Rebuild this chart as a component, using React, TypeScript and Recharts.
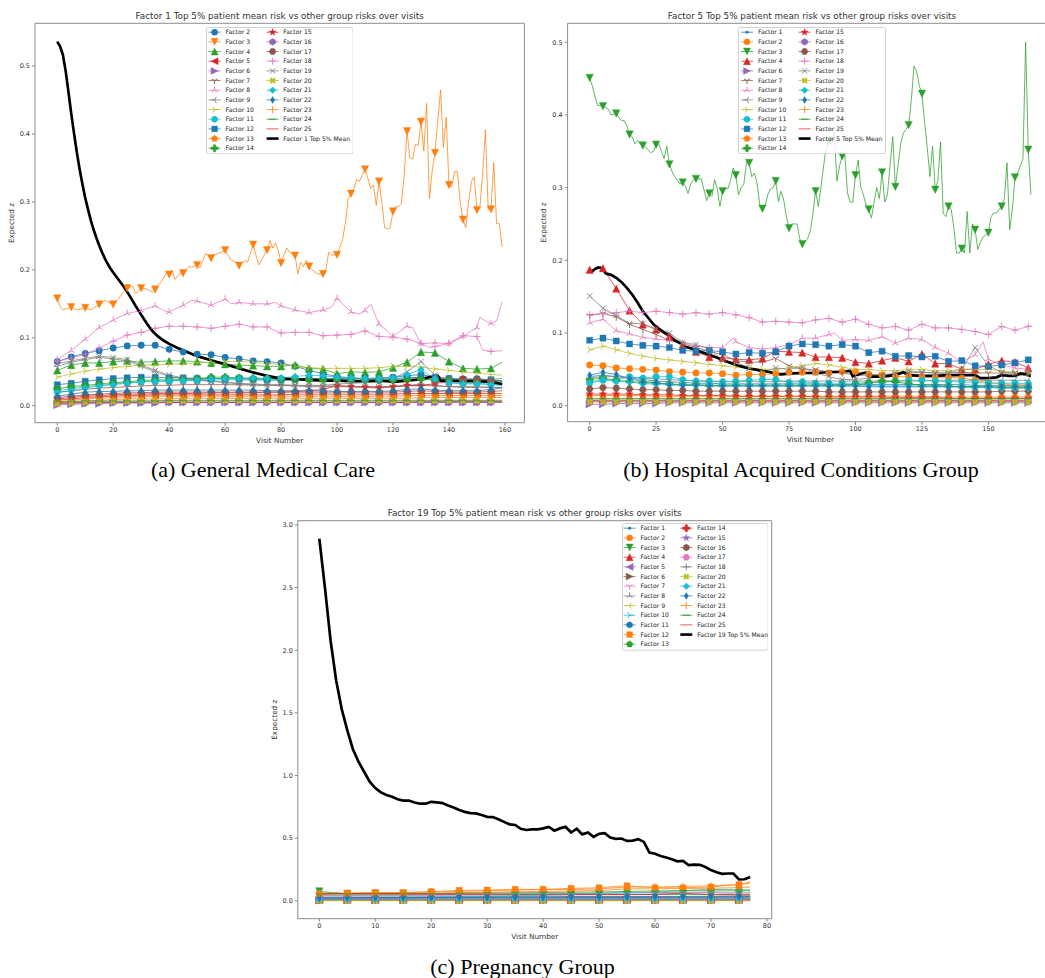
import React from 'react';
import { LineChart, Line, XAxis, YAxis, ReferenceArea } from 'recharts';

// matplotlib tab10 cycle + marker order used per factor number
const C = ['#1f77b4', '#ff7f0e', '#2ca02c', '#d62728', '#9467bd', '#8c564b', '#e377c2', '#7f7f7f', '#bcbd22', '#17becf'];
const MARKERS = ['.', 'o', 'v', '^', '<', '>', '1', '2', '3', '4', '8', 's', 'p', 'P', '*', 'h', 'H', '+', 'x', 'X', 'D', 'd', '|', '_', ''];

// ---------- (a) General Medical Care ----------
const gridA = [0, 5, 10, 15, 20, 25, 30, 35, 40, 45, 50, 55, 60, 65, 70, 75, 80, 85, 90, 95, 100, 105, 110, 115, 120, 125, 130, 135, 140, 145, 150, 155, 159];

const aF2 = [0.065, 0.072, 0.077, 0.081, 0.085, 0.088, 0.089, 0.089, 0.083, 0.079, 0.076,
  0.075, 0.071, 0.069, 0.066, 0.065, 0.063, 0.058, 0.052, 0.047, 0.043, 0.041,
  0.040, 0.041, 0.042, 0.044, 0.046, 0.042, 0.040, 0.039, 0.040, 0.038, 0.036];
const aF3: [number, number][] = [
  [0, 0.158], [1, 0.146], [2, 0.141], [5, 0.145], [7, 0.141], [10, 0.144], [12, 0.141], [15, 0.149], [17, 0.155], [18, 0.153],
  [20, 0.149], [22, 0.158], [24, 0.170], [25, 0.173], [27, 0.176], [28, 0.165], [30, 0.173], [32, 0.172], [34, 0.167], [35, 0.171],
  [37, 0.182], [39, 0.195], [40, 0.193], [41, 0.200], [42, 0.186], [44, 0.195], [45, 0.195], [47, 0.205], [48, 0.204], [50, 0.207],
  [51, 0.203], [53, 0.224], [55, 0.217], [56, 0.222], [58, 0.225], [60, 0.229], [62, 0.215], [64, 0.210], [65, 0.206], [67, 0.214],
  [68, 0.211], [70, 0.237], [72, 0.207], [74, 0.222], [75, 0.229], [76, 0.243], [77, 0.232], [78, 0.240], [79, 0.228], [80, 0.210],
  [81, 0.222], [82, 0.232], [83, 0.226], [85, 0.221], [86, 0.194], [87, 0.211], [88, 0.205], [89, 0.214], [90, 0.205], [91, 0.200],
  [93, 0.194], [95, 0.194], [96, 0.200], [97, 0.226], [98, 0.222], [100, 0.222], [102, 0.245], [103, 0.270], [104, 0.305], [105, 0.312],
  [106, 0.320], [107, 0.333], [108, 0.330], [109, 0.340], [110, 0.348], [111, 0.335], [112, 0.320], [113, 0.325], [114, 0.295], [115, 0.330],
  [116, 0.300], [117, 0.262], [118, 0.260], [119, 0.262], [120, 0.286], [121, 0.293], [122, 0.293], [123, 0.298], [124, 0.340], [125, 0.404],
  [126, 0.365], [127, 0.363], [128, 0.385], [129, 0.383], [130, 0.418], [131, 0.375], [132, 0.445], [133, 0.305], [134, 0.345], [135, 0.372],
  [136, 0.420], [137, 0.465], [138, 0.380], [139, 0.425], [140, 0.325], [141, 0.322], [142, 0.345], [143, 0.345], [144, 0.300], [145, 0.274],
  [146, 0.262], [147, 0.300], [148, 0.330], [149, 0.337], [150, 0.288], [151, 0.290], [152, 0.340], [153, 0.406], [154, 0.290], [155, 0.289],
  [156, 0.358], [157, 0.268], [158, 0.268], [159, 0.234],
];
const aF4 = [0.052, 0.060, 0.063, 0.063, 0.065, 0.066, 0.064, 0.065, 0.066, 0.066, 0.065,
  0.063, 0.061, 0.060, 0.059, 0.058, 0.058, 0.060, 0.055, 0.054, 0.047, 0.050,
  0.049, 0.050, 0.056, 0.064, 0.079, 0.078, 0.065, 0.055, 0.054, 0.055, 0.064];
const aF5 = [0.008, 0.010, 0.012, 0.013, 0.014, 0.015, 0.015, 0.016, 0.016, 0.016, 0.016,
  0.016, 0.016, 0.016, 0.016, 0.016, 0.016, 0.017, 0.017, 0.017, 0.017, 0.017,
  0.017, 0.017, 0.017, 0.018, 0.018, 0.018, 0.018, 0.018, 0.018, 0.018, 0.018];
const aF6 = [0.001, 0.002, 0.003, 0.003, 0.004, 0.004, 0.004, 0.004, 0.005, 0.005, 0.005,
  0.005, 0.005, 0.005, 0.005, 0.005, 0.005, 0.005, 0.005, 0.005, 0.005, 0.005,
  0.005, 0.005, 0.005, 0.005, 0.005, 0.005, 0.005, 0.005, 0.005, 0.005, 0.005];
const aF7 = [0.020, 0.022, 0.024, 0.026, 0.027, 0.028, 0.029, 0.030, 0.030, 0.031, 0.031,
  0.031, 0.031, 0.031, 0.030, 0.030, 0.030, 0.030, 0.029, 0.029, 0.029, 0.028,
  0.028, 0.028, 0.028, 0.029, 0.030, 0.029, 0.028, 0.028, 0.028, 0.027, 0.027];
const aF8: [number, number][] = [
  [0, 0.068], [5, 0.081], [10, 0.098], [15, 0.115], [20, 0.126], [25, 0.136], [30, 0.140], [35, 0.147], [38, 0.140], [40, 0.138],
  [45, 0.148], [48, 0.155], [50, 0.154], [55, 0.148], [60, 0.157], [62, 0.150], [65, 0.152], [70, 0.150], [75, 0.150], [78, 0.152],
  [80, 0.147], [85, 0.141], [90, 0.137], [95, 0.141], [98, 0.145], [100, 0.158], [102, 0.150], [105, 0.138], [108, 0.135], [110, 0.140],
  [112, 0.150], [115, 0.120], [118, 0.110], [120, 0.102], [122, 0.108], [125, 0.117], [127, 0.115], [130, 0.091], [135, 0.093], [140, 0.091],
  [145, 0.102], [148, 0.110], [150, 0.115], [151, 0.130], [153, 0.125], [155, 0.121], [157, 0.125], [159, 0.153],
];
const aF9 = [0.058, 0.064, 0.068, 0.071, 0.069, 0.066, 0.058, 0.050, 0.043, 0.040, 0.038,
  0.036, 0.034, 0.032, 0.031, 0.030, 0.030, 0.029, 0.028, 0.028, 0.028, 0.028,
  0.028, 0.027, 0.028, 0.030, 0.032, 0.030, 0.028, 0.027, 0.027, 0.027, 0.027];
const aF10 = [0.042, 0.047, 0.051, 0.054, 0.056, 0.058, 0.060, 0.060, 0.061, 0.062, 0.063,
  0.064, 0.065, 0.065, 0.064, 0.062, 0.061, 0.058, 0.056, 0.055, 0.055, 0.055,
  0.055, 0.056, 0.058, 0.058, 0.057, 0.054, 0.052, 0.050, 0.048, 0.046, 0.045];
const aF11 = [0.022, 0.025, 0.028, 0.030, 0.032, 0.034, 0.035, 0.036, 0.036, 0.037, 0.037,
  0.038, 0.038, 0.038, 0.038, 0.037, 0.037, 0.038, 0.040, 0.040, 0.039, 0.038,
  0.037, 0.037, 0.038, 0.040, 0.042, 0.036, 0.034, 0.033, 0.033, 0.032, 0.031];
const aF12 = [0.031, 0.033, 0.036, 0.038, 0.040, 0.041, 0.042, 0.042, 0.041, 0.041, 0.040,
  0.040, 0.040, 0.040, 0.039, 0.039, 0.039, 0.039, 0.040, 0.040, 0.040, 0.040,
  0.040, 0.039, 0.040, 0.041, 0.042, 0.041, 0.040, 0.039, 0.038, 0.038, 0.037];
const aF13 = [0.006, 0.008, 0.010, 0.011, 0.012, 0.013, 0.013, 0.014, 0.014, 0.014, 0.014,
  0.014, 0.014, 0.014, 0.014, 0.014, 0.014, 0.014, 0.014, 0.014, 0.014, 0.014,
  0.014, 0.014, 0.014, 0.015, 0.015, 0.015, 0.015, 0.015, 0.015, 0.015, 0.015];
const aF14 = [0.025, 0.028, 0.030, 0.032, 0.034, 0.035, 0.037, 0.038, 0.038, 0.039, 0.040,
  0.042, 0.042, 0.041, 0.040, 0.040, 0.039, 0.039, 0.038, 0.038, 0.038, 0.038,
  0.038, 0.038, 0.038, 0.038, 0.039, 0.038, 0.038, 0.037, 0.037, 0.036, 0.036];
const aF15 = [0.010, 0.012, 0.014, 0.015, 0.016, 0.017, 0.017, 0.018, 0.018, 0.018, 0.018,
  0.019, 0.019, 0.019, 0.019, 0.020, 0.020, 0.021, 0.022, 0.024, 0.030, 0.028,
  0.027, 0.026, 0.028, 0.030, 0.029, 0.033, 0.035, 0.040, 0.038, 0.036, 0.032];
const aF16 = [0.003, 0.004, 0.004, 0.005, 0.005, 0.005, 0.005, 0.005, 0.005, 0.005, 0.005,
  0.005, 0.005, 0.005, 0.005, 0.005, 0.005, 0.005, 0.005, 0.005, 0.005, 0.005,
  0.005, 0.005, 0.005, 0.005, 0.005, 0.005, 0.005, 0.005, 0.005, 0.005, 0.005];
const aF17 = [0.012, 0.014, 0.016, 0.017, 0.018, 0.019, 0.019, 0.020, 0.020, 0.020, 0.020,
  0.020, 0.020, 0.020, 0.020, 0.020, 0.020, 0.020, 0.020, 0.020, 0.020, 0.020,
  0.020, 0.020, 0.020, 0.021, 0.022, 0.021, 0.020, 0.020, 0.020, 0.021, 0.022];
const aF18: [number, number][] = [
  [0, 0.065], [5, 0.070], [10, 0.076], [15, 0.085], [20, 0.095], [25, 0.104], [30, 0.108], [35, 0.114], [40, 0.117], [45, 0.117],
  [50, 0.116], [55, 0.114], [60, 0.117], [65, 0.120], [70, 0.116], [75, 0.116], [80, 0.107], [85, 0.108], [90, 0.108], [95, 0.103],
  [100, 0.104], [105, 0.105], [110, 0.110], [115, 0.102], [120, 0.101], [125, 0.098], [130, 0.092], [133, 0.086], [135, 0.087], [140, 0.092],
  [145, 0.103], [150, 0.102], [152, 0.082], [155, 0.080], [159, 0.081],
];
const aF19 = [0.062, 0.066, 0.070, 0.073, 0.071, 0.068, 0.060, 0.052, 0.045, 0.041, 0.038,
  0.036, 0.035, 0.033, 0.032, 0.031, 0.031, 0.030, 0.030, 0.030, 0.032, 0.033,
  0.034, 0.035, 0.040, 0.050, 0.065, 0.045, 0.038, 0.037, 0.038, 0.039, 0.040];
const aF20 = [0.003, 0.004, 0.005, 0.006, 0.006, 0.006, 0.007, 0.007, 0.007, 0.007, 0.007,
  0.007, 0.007, 0.007, 0.007, 0.007, 0.007, 0.007, 0.007, 0.007, 0.007, 0.007,
  0.007, 0.007, 0.007, 0.007, 0.007, 0.007, 0.007, 0.007, 0.007, 0.007, 0.007];
const aF21 = [0.019, 0.022, 0.026, 0.029, 0.031, 0.033, 0.035, 0.036, 0.037, 0.037, 0.038,
  0.039, 0.040, 0.040, 0.041, 0.040, 0.041, 0.043, 0.045, 0.044, 0.042, 0.041,
  0.040, 0.040, 0.041, 0.046, 0.053, 0.039, 0.034, 0.032, 0.032, 0.031, 0.030];
const aF22 = [0.014, 0.017, 0.020, 0.021, 0.021, 0.022, 0.022, 0.023, 0.023, 0.023, 0.023,
  0.023, 0.023, 0.023, 0.023, 0.022, 0.022, 0.022, 0.022, 0.022, 0.021, 0.021,
  0.021, 0.021, 0.022, 0.024, 0.025, 0.023, 0.022, 0.022, 0.022, 0.024, 0.026];
const aF23 = [0.004, 0.006, 0.007, 0.008, 0.009, 0.010, 0.010, 0.010, 0.010, 0.011, 0.011,
  0.011, 0.011, 0.011, 0.011, 0.011, 0.011, 0.011, 0.011, 0.011, 0.011, 0.011,
  0.011, 0.011, 0.011, 0.011, 0.012, 0.012, 0.012, 0.012, 0.012, 0.012, 0.012];
const aF24 = [0.006, 0.006, 0.007, 0.007, 0.007, 0.007, 0.007, 0.007, 0.008, 0.008, 0.008,
  0.008, 0.008, 0.008, 0.008, 0.008, 0.008, 0.008, 0.008, 0.008, 0.008, 0.008,
  0.008, 0.008, 0.008, 0.008, 0.008, 0.008, 0.008, 0.008, 0.008, 0.008, 0.008];
const aF25 = [0.004, 0.004, 0.005, 0.005, 0.005, 0.005, 0.005, 0.005, 0.005, 0.005, 0.005,
  0.005, 0.005, 0.005, 0.005, 0.005, 0.005, 0.005, 0.005, 0.005, 0.005, 0.005,
  0.005, 0.005, 0.005, 0.005, 0.006, 0.006, 0.006, 0.006, 0.006, 0.006, 0.006];
const aMean: [number, number][] = [
  [0, 0.536], [1, 0.529], [2, 0.517], [3, 0.493], [4, 0.462], [5, 0.430], [6, 0.401], [7, 0.373], [8, 0.348], [9, 0.326],
  [10, 0.306], [11, 0.289], [12, 0.273], [13, 0.259], [14, 0.247], [15, 0.236], [16, 0.226], [17, 0.217], [18, 0.209], [19, 0.202],
  [20, 0.196], [22, 0.185], [24, 0.174], [26, 0.161], [28, 0.147], [30, 0.134], [32, 0.121], [34, 0.110], [36, 0.102], [38, 0.096],
  [40, 0.091], [43, 0.085], [46, 0.080], [50, 0.073], [55, 0.067], [60, 0.061], [65, 0.055], [70, 0.049], [75, 0.044], [80, 0.040],
  [85, 0.039], [90, 0.038], [95, 0.037], [100, 0.037], [105, 0.036], [110, 0.036], [115, 0.037], [118, 0.036], [120, 0.035], [125, 0.037],
  [130, 0.039], [133, 0.042], [135, 0.043], [136, 0.044], [137, 0.037], [140, 0.037], [145, 0.036], [150, 0.036], [155, 0.035], [159, 0.032],
];

// ---------- (b) Hospital Acquired Conditions Group ----------
const gridB = [0, 5, 10, 15, 20, 25, 30, 35, 40, 45, 50, 55, 60, 65, 70, 75, 80, 85, 90, 95, 100, 105, 110, 115, 120, 125, 130, 135, 140, 145, 150, 155, 160, 165, 166];

const bF1 = [0.040, 0.042, 0.040, 0.038, 0.036, 0.034, 0.033, 0.032, 0.031, 0.031, 0.030, 0.030, 0.030, 0.030,
  0.030, 0.030, 0.030, 0.030, 0.029, 0.029, 0.029, 0.029, 0.029, 0.029, 0.029, 0.029, 0.029, 0.029,
  0.029, 0.028, 0.028, 0.028, 0.028, 0.028, 0.028];
const bF2 = [0.056, 0.055, 0.052, 0.051, 0.050, 0.049, 0.047, 0.046, 0.045, 0.045, 0.044, 0.042, 0.043, 0.043,
  0.044, 0.046, 0.046, 0.046, 0.045, 0.047, 0.047, 0.043, 0.042, 0.040, 0.040, 0.040, 0.039, 0.039,
  0.038, 0.035, 0.032, 0.030, 0.029, 0.028, 0.028];
const bF3: [number, number][] = [
  [0, 0.451], [1, 0.440], [2, 0.425], [3, 0.413], [5, 0.412], [7, 0.408], [8, 0.400], [10, 0.402], [11, 0.396], [12, 0.392],
  [13, 0.392], [14, 0.385], [15, 0.373], [16, 0.370], [17, 0.360], [18, 0.365], [19, 0.360], [20, 0.358], [21, 0.356], [22, 0.352],
  [23, 0.348], [24, 0.350], [25, 0.359], [26, 0.360], [27, 0.350], [28, 0.340], [29, 0.357], [30, 0.332], [31, 0.322], [32, 0.315],
  [33, 0.310], [34, 0.305], [35, 0.307], [36, 0.302], [37, 0.292], [38, 0.305], [39, 0.310], [40, 0.312], [42, 0.312], [44, 0.282],
  [45, 0.292], [46, 0.288], [47, 0.311], [48, 0.298], [49, 0.274], [50, 0.295], [51, 0.300], [52, 0.298], [53, 0.310], [54, 0.327],
  [55, 0.317], [56, 0.290], [57, 0.300], [58, 0.305], [59, 0.335], [60, 0.334], [61, 0.315], [62, 0.320], [63, 0.305], [64, 0.276],
  [65, 0.271], [66, 0.275], [67, 0.290], [68, 0.298], [69, 0.300], [70, 0.309], [71, 0.281], [72, 0.295], [73, 0.283], [74, 0.260],
  [75, 0.244], [76, 0.250], [77, 0.250], [78, 0.250], [79, 0.230], [80, 0.222], [81, 0.225], [82, 0.230], [83, 0.240], [84, 0.265],
  [85, 0.295], [86, 0.274], [87, 0.300], [88, 0.330], [89, 0.355], [90, 0.363], [91, 0.360], [92, 0.375], [93, 0.309], [94, 0.330],
  [95, 0.343], [96, 0.345], [97, 0.292], [98, 0.280], [99, 0.280], [100, 0.317], [101, 0.338], [102, 0.300], [103, 0.290], [104, 0.275],
  [105, 0.270], [106, 0.258], [107, 0.280], [108, 0.300], [109, 0.285], [110, 0.321], [111, 0.280], [112, 0.290], [113, 0.330], [114, 0.370],
  [115, 0.301], [116, 0.330], [117, 0.360], [118, 0.375], [119, 0.380], [120, 0.386], [121, 0.420], [122, 0.467], [123, 0.460], [124, 0.440],
  [125, 0.429], [126, 0.390], [127, 0.355], [128, 0.315], [129, 0.357], [130, 0.297], [131, 0.310], [132, 0.363], [133, 0.265], [134, 0.260],
  [135, 0.274], [136, 0.270], [137, 0.245], [138, 0.210], [139, 0.210], [140, 0.216], [141, 0.210], [142, 0.267], [143, 0.210], [144, 0.250],
  [145, 0.242], [146, 0.215], [147, 0.225], [148, 0.232], [149, 0.235], [150, 0.238], [151, 0.260], [152, 0.265], [153, 0.265], [154, 0.270],
  [155, 0.274], [156, 0.285], [157, 0.334], [158, 0.242], [159, 0.270], [160, 0.314], [161, 0.320], [162, 0.330], [163, 0.340], [164, 0.500],
  [165, 0.352], [166, 0.290],
];
const bF4 = [0.187, 0.189, 0.161, 0.131, 0.112, 0.105, 0.095, 0.083, 0.074, 0.067, 0.066, 0.064, 0.063, 0.065,
  0.075, 0.074, 0.073, 0.067, 0.067, 0.066, 0.060, 0.058, 0.062, 0.066, 0.061, 0.071, 0.058, 0.058,
  0.050, 0.050, 0.057, 0.062, 0.060, 0.052, 0.050];
const bF6 = [0.002, 0.002, 0.003, 0.003, 0.003, 0.003, 0.004, 0.004, 0.004, 0.004, 0.004, 0.004, 0.004, 0.004,
  0.004, 0.004, 0.004, 0.004, 0.004, 0.004, 0.004, 0.004, 0.004, 0.004, 0.004, 0.004, 0.004, 0.004,
  0.004, 0.004, 0.004, 0.004, 0.004, 0.004, 0.004];
const bF7 = [0.124, 0.127, 0.122, 0.112, 0.105, 0.098, 0.090, 0.085, 0.080, 0.075, 0.070, 0.062, 0.060, 0.060,
  0.065, 0.055, 0.050, 0.050, 0.046, 0.045, 0.042, 0.042, 0.043, 0.044, 0.045, 0.046, 0.045, 0.045,
  0.046, 0.045, 0.045, 0.045, 0.045, 0.045, 0.045];
const bF8: [number, number][] = [
  [0, 0.114], [5, 0.119], [10, 0.103], [15, 0.099], [20, 0.094], [25, 0.092], [30, 0.090], [35, 0.086], [40, 0.082], [45, 0.080],
  [50, 0.080], [54, 0.093], [55, 0.088], [60, 0.080], [65, 0.078], [70, 0.080], [75, 0.084], [80, 0.093], [85, 0.093], [90, 0.098],
  [92, 0.100], [95, 0.090], [100, 0.091], [105, 0.090], [110, 0.095], [115, 0.086], [120, 0.093], [125, 0.091], [130, 0.080], [135, 0.072],
  [140, 0.060], [145, 0.070], [148, 0.088], [150, 0.064], [155, 0.056], [160, 0.052], [165, 0.050], [166, 0.050],
];
const bF9 = [0.038, 0.040, 0.040, 0.039, 0.038, 0.037, 0.036, 0.035, 0.034, 0.034, 0.033, 0.033, 0.033, 0.033,
  0.033, 0.034, 0.034, 0.034, 0.034, 0.034, 0.034, 0.034, 0.034, 0.034, 0.034, 0.034, 0.035, 0.035,
  0.035, 0.035, 0.035, 0.035, 0.035, 0.035, 0.035];
const bF10 = [0.077, 0.082, 0.077, 0.072, 0.068, 0.065, 0.063, 0.061, 0.059, 0.057, 0.055, 0.053, 0.052, 0.050,
  0.050, 0.052, 0.055, 0.058, 0.056, 0.053, 0.050, 0.050, 0.048, 0.048, 0.050, 0.050, 0.048, 0.048,
  0.050, 0.050, 0.050, 0.048, 0.046, 0.045, 0.045];
const bF11 = [0.031, 0.035, 0.036, 0.040, 0.038, 0.040, 0.040, 0.036, 0.034, 0.034, 0.033, 0.034, 0.035, 0.036,
  0.036, 0.032, 0.033, 0.031, 0.031, 0.031, 0.031, 0.032, 0.032, 0.034, 0.035, 0.035, 0.034, 0.033,
  0.033, 0.032, 0.031, 0.031, 0.031, 0.030, 0.030];
const bF12 = [0.090, 0.093, 0.089, 0.085, 0.083, 0.082, 0.080, 0.076, 0.075, 0.076, 0.074, 0.071, 0.073, 0.072,
  0.074, 0.082, 0.085, 0.084, 0.082, 0.084, 0.082, 0.073, 0.075, 0.068, 0.069, 0.067, 0.068, 0.061,
  0.062, 0.055, 0.054, 0.056, 0.059, 0.063, 0.063];
const bF13 = [0.014, 0.014, 0.014, 0.014, 0.014, 0.013, 0.013, 0.013, 0.013, 0.013, 0.013, 0.013, 0.013, 0.013,
  0.013, 0.013, 0.013, 0.013, 0.013, 0.013, 0.013, 0.013, 0.013, 0.013, 0.013, 0.013, 0.012, 0.012,
  0.012, 0.012, 0.012, 0.012, 0.012, 0.012, 0.012];
const bF14 = [0.036, 0.038, 0.035, 0.033, 0.032, 0.031, 0.030, 0.029, 0.029, 0.028, 0.028, 0.028, 0.028, 0.028,
  0.028, 0.028, 0.028, 0.028, 0.028, 0.028, 0.029, 0.031, 0.034, 0.033, 0.030, 0.028, 0.028, 0.027,
  0.026, 0.026, 0.026, 0.025, 0.025, 0.025, 0.025];
const bF15 = [0.016, 0.016, 0.016, 0.016, 0.015, 0.015, 0.015, 0.014, 0.014, 0.014, 0.014, 0.013, 0.013, 0.013,
  0.013, 0.013, 0.013, 0.012, 0.012, 0.012, 0.012, 0.012, 0.012, 0.011, 0.011, 0.011, 0.011, 0.010,
  0.010, 0.010, 0.010, 0.010, 0.010, 0.010, 0.010];
const bF16 = [0.006, 0.006, 0.006, 0.006, 0.006, 0.006, 0.006, 0.006, 0.006, 0.006, 0.006, 0.006, 0.006, 0.006,
  0.006, 0.006, 0.006, 0.006, 0.006, 0.006, 0.006, 0.006, 0.006, 0.006, 0.006, 0.006, 0.006, 0.006,
  0.006, 0.006, 0.006, 0.006, 0.006, 0.006, 0.006];
const bF17 = [0.023, 0.025, 0.024, 0.023, 0.022, 0.022, 0.021, 0.021, 0.020, 0.020, 0.020, 0.020, 0.020, 0.020,
  0.020, 0.020, 0.020, 0.020, 0.019, 0.019, 0.019, 0.019, 0.019, 0.019, 0.019, 0.019, 0.019, 0.019,
  0.019, 0.019, 0.019, 0.020, 0.020, 0.020, 0.020];
const bF18 = [0.125, 0.127, 0.128, 0.130, 0.128, 0.130, 0.128, 0.126, 0.128, 0.126, 0.128, 0.125, 0.121, 0.115,
  0.116, 0.115, 0.114, 0.118, 0.120, 0.115, 0.119, 0.112, 0.107, 0.109, 0.104, 0.112, 0.107, 0.107,
  0.105, 0.102, 0.098, 0.109, 0.104, 0.109, 0.110];
const bF19 = [0.151, 0.134, 0.124, 0.113, 0.113, 0.105, 0.100, 0.087, 0.084, 0.078, 0.062, 0.060, 0.052, 0.046,
  0.052, 0.050, 0.053, 0.045, 0.040, 0.036, 0.036, 0.038, 0.040, 0.045, 0.048, 0.046, 0.045, 0.045,
  0.050, 0.080, 0.055, 0.046, 0.045, 0.045, 0.045];
const bF20 = [0.005, 0.005, 0.005, 0.005, 0.005, 0.005, 0.005, 0.005, 0.005, 0.005, 0.005, 0.005, 0.005, 0.005,
  0.005, 0.005, 0.005, 0.005, 0.005, 0.005, 0.005, 0.005, 0.005, 0.005, 0.005, 0.005, 0.005, 0.005,
  0.005, 0.005, 0.005, 0.005, 0.005, 0.005, 0.005];
const bF21 = [0.032, 0.036, 0.033, 0.033, 0.030, 0.030, 0.029, 0.029, 0.028, 0.028, 0.028, 0.028, 0.028, 0.028,
  0.028, 0.028, 0.028, 0.028, 0.028, 0.028, 0.028, 0.028, 0.027, 0.027, 0.027, 0.027, 0.027, 0.026,
  0.026, 0.025, 0.025, 0.024, 0.024, 0.024, 0.024];
const bF22 = [0.042, 0.046, 0.043, 0.037, 0.033, 0.032, 0.029, 0.028, 0.028, 0.027, 0.027, 0.027, 0.027, 0.027,
  0.027, 0.027, 0.027, 0.027, 0.027, 0.027, 0.027, 0.026, 0.026, 0.026, 0.026, 0.026, 0.026, 0.026,
  0.026, 0.026, 0.026, 0.026, 0.026, 0.026, 0.026];
const bF23 = [0.009, 0.009, 0.009, 0.009, 0.009, 0.009, 0.009, 0.009, 0.009, 0.009, 0.009, 0.009, 0.009, 0.009,
  0.009, 0.009, 0.009, 0.009, 0.009, 0.009, 0.009, 0.009, 0.009, 0.009, 0.009, 0.009, 0.009, 0.009,
  0.009, 0.009, 0.009, 0.009, 0.009, 0.009, 0.009];
const bF24 = [0.010, 0.010, 0.010, 0.010, 0.010, 0.010, 0.010, 0.010, 0.010, 0.010, 0.010, 0.010, 0.010, 0.010,
  0.010, 0.010, 0.010, 0.010, 0.010, 0.010, 0.010, 0.010, 0.010, 0.010, 0.010, 0.010, 0.010, 0.010,
  0.010, 0.010, 0.010, 0.010, 0.010, 0.010, 0.010];
const bF25 = [0.007, 0.007, 0.007, 0.007, 0.007, 0.007, 0.007, 0.007, 0.007, 0.007, 0.007, 0.007, 0.007, 0.007,
  0.007, 0.007, 0.007, 0.007, 0.007, 0.007, 0.007, 0.007, 0.007, 0.007, 0.007, 0.007, 0.007, 0.007,
  0.007, 0.007, 0.007, 0.007, 0.007, 0.007, 0.007];
const bMean: [number, number][] = [
  [0, 0.184], [1, 0.185], [2, 0.188], [3, 0.190], [4, 0.190], [5, 0.188], [6, 0.182], [7, 0.181], [8, 0.180], [9, 0.178],
  [10, 0.176], [12, 0.170], [14, 0.162], [16, 0.153], [18, 0.142], [20, 0.130], [22, 0.121], [24, 0.112], [26, 0.106], [28, 0.101],
  [30, 0.096], [32, 0.090], [34, 0.086], [36, 0.081], [38, 0.079], [40, 0.077], [42, 0.074], [45, 0.070], [48, 0.066], [50, 0.063],
  [52, 0.060], [55, 0.056], [58, 0.053], [60, 0.051], [62, 0.050], [65, 0.048], [68, 0.046], [70, 0.044], [72, 0.043], [75, 0.044],
  [80, 0.045], [85, 0.045], [90, 0.046], [95, 0.047], [98, 0.048], [99, 0.040], [100, 0.042], [103, 0.045], [105, 0.046], [106, 0.040],
  [110, 0.040], [115, 0.042], [118, 0.046], [120, 0.042], [125, 0.041], [130, 0.041], [135, 0.042], [140, 0.042], [145, 0.042], [147, 0.038],
  [150, 0.038], [153, 0.039], [155, 0.042], [158, 0.041], [160, 0.041], [162, 0.044], [164, 0.043], [166, 0.041],
];

// ---------- (c) Pregnancy Group ----------
const gridC = [0, 5, 10, 15, 20, 25, 30, 35, 40, 45, 50, 55, 60, 65, 70, 75, 77];

const cF1 = [0.030, 0.030, 0.031, 0.031, 0.032, 0.032, 0.033, 0.033, 0.033, 0.034, 0.034, 0.035, 0.035, 0.035, 0.036, 0.036, 0.036];
const cF2 = [0.050, 0.055, 0.056, 0.057, 0.060, 0.065, 0.068, 0.072, 0.075, 0.078, 0.082, 0.095, 0.095, 0.098, 0.100, 0.105, 0.110];
const cF3 = [0.075, 0.055, 0.054, 0.053, 0.052, 0.052, 0.051, 0.050, 0.050, 0.050, 0.050, 0.050, 0.050, 0.050, 0.050, 0.050, 0.050];
const cF4 = [0.010, 0.011, 0.011, 0.012, 0.012, 0.012, 0.012, 0.012, 0.012, 0.012, 0.012, 0.013, 0.013, 0.013, 0.013, 0.013, 0.013];
const cF5 = [0.005, 0.005, 0.005, 0.005, 0.005, 0.005, 0.005, 0.005, 0.005, 0.005, 0.005, 0.005, 0.005, 0.005, 0.005, 0.005, 0.005];
const cF6 = [0.003, 0.003, 0.003, 0.003, 0.003, 0.003, 0.003, 0.003, 0.003, 0.003, 0.003, 0.003, 0.003, 0.003, 0.003, 0.003, 0.003];
const cF7 = [0.040, 0.040, 0.041, 0.042, 0.042, 0.043, 0.043, 0.044, 0.045, 0.046, 0.047, 0.048, 0.055, 0.060, 0.065, 0.055, 0.055];
const cF8 = [0.045, 0.045, 0.046, 0.047, 0.048, 0.050, 0.052, 0.055, 0.056, 0.058, 0.060, 0.062, 0.065, 0.068, 0.070, 0.068, 0.068];
const cF9 = [0.002, 0.002, 0.002, 0.002, 0.002, 0.002, 0.002, 0.002, 0.002, 0.002, 0.002, 0.002, 0.002, 0.002, 0.002, 0.002, 0.002];
const cF10 = [0.020, 0.022, 0.024, 0.026, 0.028, 0.030, 0.035, 0.040, 0.045, 0.050, 0.060, 0.065, 0.070, 0.080, 0.090, 0.085, 0.085];
const cF11 = [0.020, 0.022, 0.022, 0.023, 0.023, 0.024, 0.024, 0.025, 0.025, 0.025, 0.026, 0.026, 0.027, 0.027, 0.028, 0.028, 0.028];
const cF12 = [0.053, 0.061, 0.066, 0.066, 0.073, 0.083, 0.086, 0.091, 0.091, 0.099, 0.104, 0.120, 0.104, 0.104, 0.110, 0.130, 0.140];
const cF13 = [0.010, 0.011, 0.012, 0.012, 0.012, 0.012, 0.012, 0.012, 0.012, 0.012, 0.012, 0.012, 0.012, 0.012, 0.012, 0.012, 0.012];
const cF14 = [0.015, 0.015, 0.015, 0.015, 0.015, 0.015, 0.015, 0.015, 0.015, 0.015, 0.015, 0.015, 0.015, 0.015, 0.015, 0.015, 0.015];
const cF15 = [0.008, 0.008, 0.008, 0.008, 0.008, 0.008, 0.008, 0.008, 0.008, 0.008, 0.008, 0.008, 0.008, 0.008, 0.008, 0.008, 0.008];
const cF16 = [0.006, 0.006, 0.006, 0.006, 0.006, 0.006, 0.006, 0.006, 0.006, 0.006, 0.006, 0.006, 0.006, 0.006, 0.006, 0.006, 0.006];
const cF17 = [0.012, 0.012, 0.012, 0.012, 0.012, 0.012, 0.012, 0.012, 0.012, 0.012, 0.012, 0.012, 0.012, 0.012, 0.012, 0.012, 0.012];
const cF18 = [0.025, 0.025, 0.026, 0.026, 0.027, 0.027, 0.028, 0.028, 0.029, 0.029, 0.030, 0.030, 0.030, 0.031, 0.031, 0.031, 0.031];
const cF20 = [0.001, 0.001, 0.001, 0.001, 0.001, 0.001, 0.001, 0.001, 0.001, 0.001, 0.001, 0.001, 0.001, 0.001, 0.001, 0.001, 0.001];
const cF21 = [0.012, 0.014, 0.015, 0.015, 0.016, 0.016, 0.016, 0.017, 0.017, 0.017, 0.018, 0.018, 0.018, 0.019, 0.019, 0.019, 0.019];
const cF22 = [0.022, 0.024, 0.025, 0.026, 0.026, 0.027, 0.027, 0.028, 0.028, 0.029, 0.029, 0.030, 0.030, 0.031, 0.031, 0.032, 0.032];
const cF23 = [0.060, 0.060, 0.062, 0.065, 0.070, 0.075, 0.080, 0.085, 0.090, 0.090, 0.095, 0.110, 0.110, 0.115, 0.120, 0.130, 0.150];
const cF24 = [0.055, 0.055, 0.056, 0.057, 0.058, 0.060, 0.062, 0.064, 0.066, 0.068, 0.070, 0.075, 0.078, 0.082, 0.085, 0.086, 0.085];
const cF25 = [0.060, 0.058, 0.057, 0.056, 0.055, 0.055, 0.054, 0.053, 0.052, 0.052, 0.051, 0.050, 0.050, 0.060, 0.050, 0.045, 0.045];
const cMean: [number, number][] = [
  [0, 2.89], [1, 2.50], [2, 2.08], [3, 1.76], [4, 1.53], [5, 1.36], [6, 1.21], [7, 1.11], [8, 1.03], [9, 0.95],
  [10, 0.90], [11, 0.865], [12, 0.845], [13, 0.83], [14, 0.81], [15, 0.80], [16, 0.80], [17, 0.785], [18, 0.775], [19, 0.775],
  [20, 0.79], [21, 0.785], [22, 0.78], [23, 0.76], [24, 0.745], [25, 0.725], [26, 0.71], [27, 0.70], [28, 0.698], [29, 0.685],
  [30, 0.67], [31, 0.668], [32, 0.65], [33, 0.63], [34, 0.61], [35, 0.605], [36, 0.575], [37, 0.565], [38, 0.57], [39, 0.57],
  [40, 0.578], [41, 0.59], [42, 0.56], [43, 0.578], [44, 0.59], [45, 0.545], [46, 0.575], [47, 0.53], [48, 0.545], [49, 0.51],
  [50, 0.535], [51, 0.54], [52, 0.505], [53, 0.495], [54, 0.497], [55, 0.478], [56, 0.48], [57, 0.492], [58, 0.47], [59, 0.385],
  [60, 0.375], [61, 0.358], [62, 0.345], [63, 0.332], [64, 0.315], [65, 0.318], [66, 0.285], [67, 0.288], [68, 0.287], [69, 0.27],
  [70, 0.245], [71, 0.228], [72, 0.215], [73, 0.218], [74, 0.218], [75, 0.17], [76, 0.172], [77, 0.19],
];

type Row = { visit: number; value: number };
type Series = { f: number; rows: Row[] };

const onGrid = (grid: number[], vals: number[]): Row[] => grid.map((v, i) => ({ visit: v, value: vals[i] }));
const fromPairs = (pts: [number, number][]): Row[] => pts.map(([v, y]) => ({ visit: v, value: y }));

const seriesA: Series[] = [
  { f: 2, rows: onGrid(gridA, aF2) }, { f: 3, rows: fromPairs(aF3) }, { f: 4, rows: onGrid(gridA, aF4) },
  { f: 5, rows: onGrid(gridA, aF5) }, { f: 6, rows: onGrid(gridA, aF6) }, { f: 7, rows: onGrid(gridA, aF7) },
  { f: 8, rows: fromPairs(aF8) }, { f: 9, rows: onGrid(gridA, aF9) }, { f: 10, rows: onGrid(gridA, aF10) },
  { f: 11, rows: onGrid(gridA, aF11) }, { f: 12, rows: onGrid(gridA, aF12) }, { f: 13, rows: onGrid(gridA, aF13) },
  { f: 14, rows: onGrid(gridA, aF14) }, { f: 15, rows: onGrid(gridA, aF15) }, { f: 16, rows: onGrid(gridA, aF16) },
  { f: 17, rows: onGrid(gridA, aF17) }, { f: 18, rows: fromPairs(aF18) }, { f: 19, rows: onGrid(gridA, aF19) },
  { f: 20, rows: onGrid(gridA, aF20) }, { f: 21, rows: onGrid(gridA, aF21) }, { f: 22, rows: onGrid(gridA, aF22) },
  { f: 23, rows: onGrid(gridA, aF23) }, { f: 24, rows: onGrid(gridA, aF24) }, { f: 25, rows: onGrid(gridA, aF25) },
];
const seriesB: Series[] = [
  { f: 1, rows: onGrid(gridB, bF1) }, { f: 2, rows: onGrid(gridB, bF2) }, { f: 3, rows: fromPairs(bF3) },
  { f: 4, rows: onGrid(gridB, bF4) }, { f: 6, rows: onGrid(gridB, bF6) }, { f: 7, rows: onGrid(gridB, bF7) },
  { f: 8, rows: fromPairs(bF8) }, { f: 9, rows: onGrid(gridB, bF9) }, { f: 10, rows: onGrid(gridB, bF10) },
  { f: 11, rows: onGrid(gridB, bF11) }, { f: 12, rows: onGrid(gridB, bF12) }, { f: 13, rows: onGrid(gridB, bF13) },
  { f: 14, rows: onGrid(gridB, bF14) }, { f: 15, rows: onGrid(gridB, bF15) }, { f: 16, rows: onGrid(gridB, bF16) },
  { f: 17, rows: onGrid(gridB, bF17) }, { f: 18, rows: onGrid(gridB, bF18) }, { f: 19, rows: onGrid(gridB, bF19) },
  { f: 20, rows: onGrid(gridB, bF20) }, { f: 21, rows: onGrid(gridB, bF21) }, { f: 22, rows: onGrid(gridB, bF22) },
  { f: 23, rows: onGrid(gridB, bF23) }, { f: 24, rows: onGrid(gridB, bF24) }, { f: 25, rows: onGrid(gridB, bF25) },
];
const seriesC: Series[] = [
  { f: 1, rows: onGrid(gridC, cF1) }, { f: 2, rows: onGrid(gridC, cF2) }, { f: 3, rows: onGrid(gridC, cF3) },
  { f: 4, rows: onGrid(gridC, cF4) }, { f: 5, rows: onGrid(gridC, cF5) }, { f: 6, rows: onGrid(gridC, cF6) },
  { f: 7, rows: onGrid(gridC, cF7) }, { f: 8, rows: onGrid(gridC, cF8) }, { f: 9, rows: onGrid(gridC, cF9) },
  { f: 10, rows: onGrid(gridC, cF10) }, { f: 11, rows: onGrid(gridC, cF11) }, { f: 12, rows: onGrid(gridC, cF12) },
  { f: 13, rows: onGrid(gridC, cF13) }, { f: 14, rows: onGrid(gridC, cF14) }, { f: 15, rows: onGrid(gridC, cF15) },
  { f: 16, rows: onGrid(gridC, cF16) }, { f: 17, rows: onGrid(gridC, cF17) }, { f: 18, rows: onGrid(gridC, cF18) },
  { f: 20, rows: onGrid(gridC, cF20) }, { f: 21, rows: onGrid(gridC, cF21) }, { f: 22, rows: onGrid(gridC, cF22) },
  { f: 23, rows: onGrid(gridC, cF23) }, { f: 24, rows: onGrid(gridC, cF24) }, { f: 25, rows: onGrid(gridC, cF25) },
];

// matplotlib-like marker glyphs
function markerEl(shape: string, x: number, y: number, color: string, r: number, key?: string) {
  const pt = (a: number, b: number) => `${x + a * r},${y + b * r}`;
  const poly = (pts: number[][]) => (
    <polygon key={key} points={pts.map(([a, b]) => pt(a, b)).join(' ')} fill={color} stroke={color} strokeWidth={0.4} />
  );
  const rays = (pts: number[][], w = 0.9) => (
    <path key={key} d={pts.map(([a, b]) => `M${x},${y}L${pt(a, b)}`).join('')} stroke={color} strokeWidth={w} fill="none" />
  );
  const ngon = (n: number, start: number, rad = 1) =>
    Array.from({ length: n }, (_, k) => {
      const t = ((start + (360 / n) * k) * Math.PI) / 180;
      return [rad * Math.cos(t), rad * Math.sin(t)];
    });
  switch (shape) {
    case '.': return <circle key={key} cx={x} cy={y} r={r * 0.42} fill={color} />;
    case 'o': return <circle key={key} cx={x} cy={y} r={r * 0.92} fill={color} />;
    case 'v': return poly([[0, 1], [-1, -1], [1, -1]]);
    case '^': return poly([[0, -1], [-1, 1], [1, 1]]);
    case '<': return poly([[-1, 0], [1, -1], [1, 1]]);
    case '>': return poly([[1, 0], [-1, -1], [-1, 1]]);
    case '1': return rays([[0, 1], [-0.87, -0.5], [0.87, -0.5]]);
    case '2': return rays([[0, -1], [-0.87, 0.5], [0.87, 0.5]]);
    case '3': return rays([[-1, 0], [0.5, -0.87], [0.5, 0.87]]);
    case '4': return rays([[1, 0], [-0.5, -0.87], [-0.5, 0.87]]);
    case '8': return poly(ngon(8, 22.5, 0.92));
    case 's': return poly([[-0.82, -0.82], [0.82, -0.82], [0.82, 0.82], [-0.82, 0.82]]);
    case 'p': return poly(ngon(5, -90, 0.98));
    case 'P': {
      const t = 0.36;
      return poly([[-t, -1], [t, -1], [t, -t], [1, -t], [1, t], [t, t], [t, 1], [-t, 1], [-t, t], [-1, t], [-1, -t], [-t, -t]]);
    }
    case '*': {
      const pts = Array.from({ length: 10 }, (_, k) => {
        const rad = k % 2 === 0 ? 1.05 : 0.42;
        const t = ((-90 + 36 * k) * Math.PI) / 180;
        return [rad * Math.cos(t), rad * Math.sin(t)];
      });
      return poly(pts);
    }
    case 'h': return poly(ngon(6, -90, 0.98));
    case 'H': return poly(ngon(6, 0, 0.98));
    case '+': return rays([[1, 0], [-1, 0], [0, 1], [0, -1]]);
    case 'x': return rays([[0.75, 0.75], [-0.75, -0.75], [0.75, -0.75], [-0.75, 0.75]]);
    case 'X': {
      const t = 0.3;
      const base = [[-t, -1], [t, -1], [t, -t], [1, -t], [1, t], [t, t], [t, 1], [-t, 1], [-t, t], [-1, t], [-1, -t], [-t, -t]];
      const c = Math.SQRT1_2 * 0.9;
      return poly(base.map(([a, b]) => [(a - b) * c, (a + b) * c]));
    }
    case 'D': return poly([[0, -0.95], [0.95, 0], [0, 0.95], [-0.95, 0]]);
    case 'd': return poly([[0, -1], [0.6, 0], [0, 1], [-0.6, 0]]);
    case '|': return rays([[0, 1], [0, -1]]);
    case '_': return rays([[1, 0], [-1, 0]]);
    default: return null;
  }
}

const FONT = 'DejaVu Sans';
const TICK = { fontSize: 6.5, fill: '#333', fontFamily: FONT };

type LegendEntry = { label: string; color: string; shape: string; mean?: boolean };

function LegendBox({ left, top, width, height, entries, cols, r }: {
  left: number; top: number; width: number; height: number; entries: LegendEntry[]; cols: number[]; r: number;
}) {
  return (
    <svg style={{ position: 'absolute', left, top }} width={width} height={height}>
      <rect x={0.5} y={0.5} width={width - 1} height={height - 1} rx={2} fill="#fff" fillOpacity={0.8} stroke="#d0d0d0" />
      {entries.map((e, i) => {
        const c = i < 13 ? 0 : 1;
        const row = c ? i - 13 : i;
        const hx = cols[c * 2];
        const tx = cols[c * 2 + 1];
        const y = 5.2 + row * 9.67;
        return (
          <g key={i}>
            <line x1={hx - 6} x2={hx + 6} y1={y} y2={y} stroke={e.color} strokeWidth={e.mean ? 2.6 : 1} strokeOpacity={e.mean ? 1 : 0.75} />
            {e.shape ? markerEl(e.shape, hx, y, e.color, r) : null}
            <text x={tx} y={y} dy="0.36em" fontSize={6.1} fontFamily={FONT} fill="#222">{e.label}</text>
          </g>
        );
      })}
    </svg>
  );
}

type PanelProps = {
  left: number; top: number; width: number; height: number;
  margin: { top: number; right: number; bottom: number; left: number };
  yWidth: number; xDomain: number[]; yDomain: number[]; xTicks: number[]; yTicks: number[];
  yLabelOffset: number; series: Series[]; mean: [number, number][]; r: number;
};

function Panel(p: PanelProps) {
  return (
    <div style={{ position: 'absolute', left: p.left, top: p.top }}>
      <LineChart width={p.width} height={p.height} margin={p.margin}>
        <XAxis
          type="number" dataKey="visit" domain={p.xDomain} ticks={p.xTicks} allowDataOverflow interval={0}
          axisLine={false} tickSize={3} tickLine={{ stroke: '#888' }} tick={TICK} height={20}
          label={{ value: 'Visit Number', position: 'insideBottom', offset: 0, fontSize: 7.3, fill: '#333', fontFamily: FONT }}
        />
        <YAxis
          type="number" domain={p.yDomain} ticks={p.yTicks} allowDataOverflow interval={0} width={p.yWidth}
          axisLine={false} tickSize={3} tickLine={{ stroke: '#888' }} tick={TICK}
          tickFormatter={(v: number) => v.toFixed(1)}
          label={{ value: 'Expected z', angle: -90, position: 'insideLeft', offset: p.yLabelOffset, fontSize: 7.3, fill: '#333', fontFamily: FONT, style: { textAnchor: 'middle' } }}
        />
        {p.series.map((s, i) => {
          const color = C[i % 10];
          const shape = MARKERS[s.f - 1];
          return (
            <Line
              key={s.f} data={s.rows} dataKey="value" type="linear" stroke={color} strokeWidth={1} strokeOpacity={0.75}
              isAnimationActive={false} activeDot={false}
              dot={(d: any) =>
                d.payload.visit % 5 === 0 && shape
                  ? markerEl(shape, d.cx, d.cy, color, p.r, `m${s.f}-${d.index}`)
                  : <g key={`m${s.f}-${d.index}`} />
              }
            />
          );
        })}
        <Line data={fromPairs(p.mean)} dataKey="value" type="linear" stroke="#000" strokeWidth={2.7} dot={false} activeDot={false} isAnimationActive={false} />
        <ReferenceArea x1={p.xDomain[0]} x2={p.xDomain[1]} y1={p.yDomain[0]} y2={p.yDomain[1]} fill="none" stroke="#8c8c8c" strokeWidth={1} ifOverflow="visible" />
      </LineChart>
    </div>
  );
}

const legendFor = (series: Series[], meanLabel: string): LegendEntry[] => [
  ...series.map((s, i) => ({ label: `Factor ${s.f}`, color: C[i % 10], shape: MARKERS[s.f - 1] })),
  { label: meanLabel, color: '#000', shape: '', mean: true },
];

const titleStyle = (cx: number, cy: number): React.CSSProperties => ({
  position: 'absolute', left: cx - 250, top: cy - 6, width: 500, height: 12, lineHeight: '12px',
  textAlign: 'center', fontFamily: FONT, fontSize: 8.8, color: '#333',
});
const captionStyle = (cx: number, cy: number): React.CSSProperties => ({
  position: 'absolute', left: cx - 300, top: cy - 13, width: 600, height: 26, lineHeight: '26px',
  textAlign: 'center', fontFamily: '"Liberation Serif", "Times New Roman", serif', fontSize: 22, color: '#000',
});

export default function App() {
  return (
    <div style={{ position: 'absolute', left: 0, top: 0, width: 1045, height: 978, overflow: 'hidden', background: '#fff' }}>
      <Panel
        left={0} top={0} width={530} height={445} margin={{ top: 23.3, right: 5.6, bottom: 2.3, left: 0 }}
        yWidth={35} xDomain={[-7.95, 166.95]} yDomain={[-0.025, 0.563]}
        xTicks={[0, 20, 40, 60, 80, 100, 120, 140, 160]} yTicks={[0, 0.1, 0.2, 0.3, 0.4, 0.5]}
        yLabelOffset={11} series={seriesA} mean={aMean} r={3.7}
      />
      <Panel
        left={530} top={0} width={530} height={445} margin={{ top: 23.3, right: 7, bottom: 3.3, left: 0 }}
        yWidth={37.6} xDomain={[-8.3, 174.3]} yDomain={[-0.022, 0.526]}
        xTicks={[0, 25, 50, 75, 100, 125, 150]} yTicks={[0, 0.1, 0.2, 0.3, 0.4, 0.5]}
        yLabelOffset={13.3} series={seriesB} mean={bMean} r={3.7}
      />
      <Panel
        left={260} top={500} width={530} height={445} margin={{ top: 20.7, right: 18.3, bottom: 6.3, left: 0 }}
        yWidth={37.8} xDomain={[-3.85, 80.85]} yDomain={[-0.143, 3.034]}
        xTicks={[0, 10, 20, 30, 40, 50, 60, 70, 80]} yTicks={[0, 0.5, 1, 1.5, 2, 2.5, 3]}
        yLabelOffset={14} series={seriesC} mean={cMean} r={3.7}
      />

      <LegendBox left={205.7} top={26.7} width={147.6} height={127.3} entries={legendFor(seriesA, 'Factor 1 Top 5% Mean')} cols={[8.6, 19.6, 66.6, 77.3]} r={3.5} />
      <LegendBox left={737.7} top={26.7} width={148} height={127.3} entries={legendFor(seriesB, 'Factor 5 Top 5% Mean')} cols={[9, 20, 66.6, 77.6]} r={3.5} />
      <LegendBox left={621.7} top={523.3} width={146.6} height={127.7} entries={legendFor(seriesC, 'Factor 19 Top 5% Mean')} cols={[7.6, 18.6, 64.3, 75.3]} r={3.5} />

      <div style={titleStyle(279.7, 15.7)}>Factor 1 Top 5% patient mean risk vs other group risks over visits</div>
      <div style={titleStyle(812, 15.7)}>Factor 5 Top 5% patient mean risk vs other group risks over visits</div>
      <div style={titleStyle(534.6, 512.7)}>Factor 19 Top 5% patient mean risk vs other group risks over visits</div>

      <div style={captionStyle(263, 470)}>(a) General Medical Care</div>
      <div style={captionStyle(801, 470)}>(b) Hospital Acquired Conditions Group</div>
      <div style={captionStyle(522.5, 967)}>(c) Pregnancy Group</div>
    </div>
  );
}
